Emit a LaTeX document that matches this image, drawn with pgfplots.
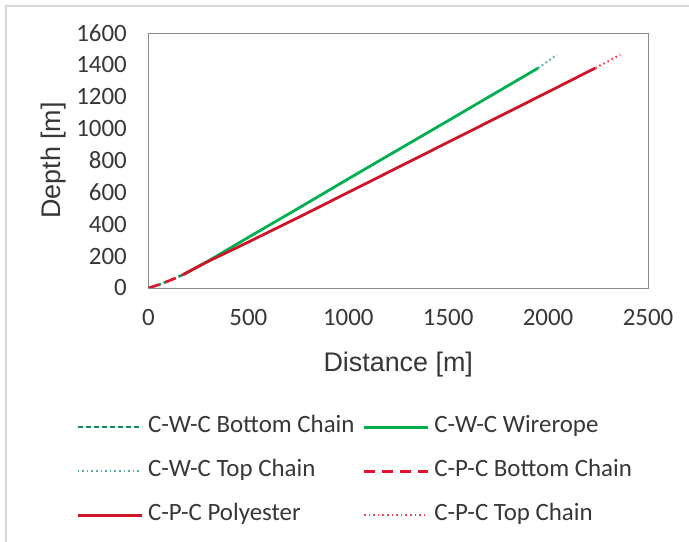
\documentclass[border=0pt]{standalone}
\usepackage{fontspec}
\setmainfont{Carlito}
\newfontfamily\arialf{Liberation Sans}
\usepackage{pgfplots}
\pgfplotsset{compat=1.18}
\definecolor{cgreen}{RGB}{0,176,80}
\definecolor{cgreendash}{RGB}{20,140,90}
\definecolor{cgreendot}{RGB}{90,170,160}
\definecolor{cred}{RGB}{225,20,45}
\definecolor{credsolid}{RGB}{205,20,40}
\definecolor{credtop}{RGB}{240,70,90}
\definecolor{boxgray}{RGB}{140,140,140}
\definecolor{framegray}{RGB}{215,215,215}
\definecolor{txt}{RGB}{55,55,55}
\begin{document}
\begin{tikzpicture}
\useasboundingbox (0,0) rectangle (689bp,542bp);
\fill[white] (0,0) rectangle (689bp,542bp);
\draw[framegray, line width=1.2bp] (6bp,-10bp) rectangle (700bp,536bp);
\begin{axis}[
  at={(148.5bp,254bp)}, anchor=south west,
  scale only axis, width=499.5bp, height=255bp,
  xmin=0, xmax=2500, ymin=0, ymax=1600,
  xtick={0,500,...,2500}, ytick={0,200,...,1600},
  major tick length=0pt,
  axis line style={boxgray, line width=0.9bp},
  /pgf/number format/assume math mode=true,
  /pgf/number format/1000 sep={},
  tick label style={font=\fontsize{25}{29}\selectfont, text=txt, inner sep=0pt},
  xticklabel style={anchor=center, yshift=-30bp},
  yticklabel style={anchor=east, xshift=-21.5bp},
  xlabel={Distance [m]}, ylabel={Depth [m]},
  label style={font=\arialf\fontsize{27}{32}\selectfont, text=txt, inner sep=0pt},
  xlabel style={at={(axis description cs:0.5,-0.302)}, anchor=center},
  ylabel style={at={(axis description cs:-0.191,0.5)}, anchor=center},
  legend columns=2,
  legend cell align=left,
  legend image code/.code={\draw[#1] (0bp,0bp) -- (64bp,0bp);},
  legend style={draw=none, fill=none, inner sep=0pt,
    at={(axis description cs:-0.1451,-0.504)}, anchor=north west,
    font=\fontsize{25}{29}\selectfont, text=txt,
    nodes={inner sep=0pt, text height=16bp, text depth=5bp},
    row sep=23bp, column sep=5bp,
    /tikz/every even column/.append style={column sep=8bp}},
]
\addplot[cgreendash, line width=2.4bp, dash pattern=on 5bp off 3bp] coordinates {(0,0) (60,24) (120,54) (175,85)};
\addlegendentry{C-W-C Bottom Chain}
\addplot[cgreen, line width=2.8bp] coordinates {(175,85) (300,170) (500,318) (750,500) (1000,685) (1500,1050) (1950,1380)};
\addlegendentry{C-W-C Wirerope}
\addplot[cgreendot, line width=2.2bp, dash pattern=on 1.6bp off 3bp] coordinates {(1950,1380) (2000,1424) (2045,1464)};
\addlegendentry{C-W-C Top Chain}
\addplot[cred, line width=2.6bp, dash pattern=on 11bp off 7bp] coordinates {(0,0) (60,24) (120,54) (175,85)};
\addlegendentry{C-P-C Bottom Chain}
\addplot[credsolid, line width=2.8bp] coordinates {(175,85) (300,168) (457,262) (757,447) (1000,600) (1500,915) (2000,1230) (2236,1380)};
\addlegendentry{C-P-C Polyester}
\addplot[credtop, line width=2.2bp, dash pattern=on 1.6bp off 3bp] coordinates {(2236,1380) (2300,1422) (2361,1464)};
\addlegendentry{C-P-C Top Chain}
\end{axis}
\end{tikzpicture}
\end{document}
